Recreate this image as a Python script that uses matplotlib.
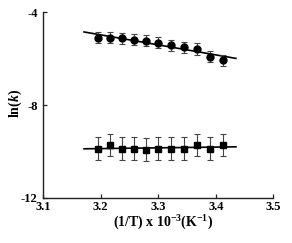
import numpy as np
from matplotlib import pyplot as plt

plt.rcParams['font.family'] = ['Liberation Serif', 'DejaVu Serif']
plt.rcParams['font.weight'] = 'bold'
plt.rcParams['mathtext.fontset'] = 'custom'
plt.rcParams['mathtext.rm'] = 'Liberation Serif:bold'
plt.rcParams['mathtext.it'] = 'Liberation Serif:bold:italic'
plt.rcParams['mathtext.bf'] = 'Liberation Serif:bold'

temps = np.arange(313, 292, -2)
x = 1000.0 / temps

lnk_circ = [-5.10, -5.10, -5.12, -5.17, -5.22, -5.31, -5.42, -5.51, -5.58, -5.91, -6.06]
err_circ = [0.24, 0.24, 0.24, 0.24, 0.24, 0.24, 0.24, 0.24, 0.24, 0.24, 0.24]
lnk_sq = [-9.89, -9.71, -9.89, -9.89, -9.92, -9.89, -9.89, -9.89, -9.71, -9.89, -9.71]
err_sq = [0.5, 0.48, 0.5, 0.5, 0.5, 0.5, 0.5, 0.5, 0.48, 0.5, 0.48]

fig = plt.figure(figsize=(2.92, 2.43), dpi=100)
ax = fig.add_axes([0.148, 0.186, 0.788, 0.763])

xf = np.array([3.171, 3.435])
for y, e, m in [(lnk_circ, err_circ, 'o'), (lnk_sq, err_sq, 's')]:
    ax.errorbar(x, y, yerr=e, fmt=m, color='black', ms=5, ecolor='#444444',
                elinewidth=0.8, capsize=2.5, capthick=0.8, zorder=3)
    p = np.polyfit(x, y, 1)
    ax.plot(xf, np.polyval(p, xf), color='black', lw=1.2, zorder=2)

ax.set_xlim(3.1, 3.5)
ax.set_ylim(-12, -4)
ax.set_xticks([3.1, 3.2, 3.3, 3.4, 3.5])
ax.set_yticks([-12, -8, -4])
ax.set_yticklabels(['-12', '-8', '-4'])
for s in ['top', 'right']:
    ax.spines[s].set_visible(False)
for s in ['left', 'bottom']:
    ax.spines[s].set_color('#222222')
    ax.spines[s].set_linewidth(1.0)
ax.tick_params(direction='in', length=3, width=0.9, labelsize=9, color='#222222')
ax.tick_params(axis='x', pad=2)
ax.tick_params(axis='y', pad=4)
for t in ax.get_xticklabels() + ax.get_yticklabels():
    t.set_fontweight('bold')
ax.set_xlabel(r'(1/T) x 10$^{-3}$(K$^{-1}$)', fontsize=10, fontweight='bold')
ax.set_ylabel(r'ln($\mathit{k}$)', fontsize=10, fontweight='bold')
ax.xaxis.set_label_coords(0.52, -0.136)
ax.yaxis.set_label_coords(-0.123, 0.51)
ax.xaxis.label.set_va('center')
ax.yaxis.label.set_va('center')

plt.savefig('out.png', dpi=100)
